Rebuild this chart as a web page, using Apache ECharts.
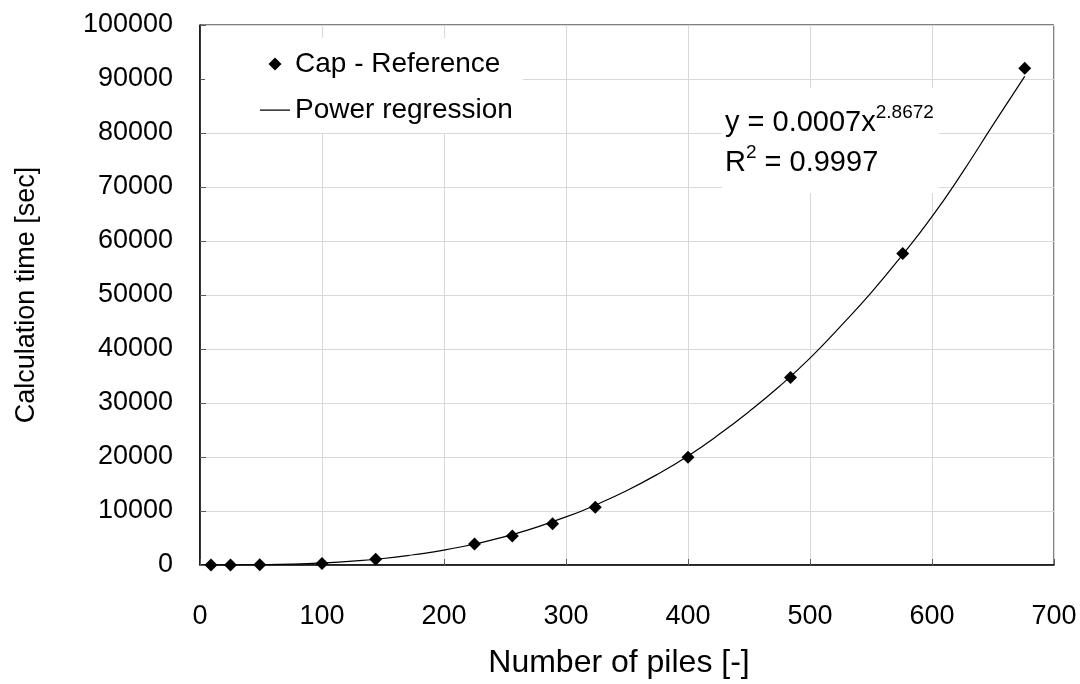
<!DOCTYPE html>
<html>
<head>
<meta charset="utf-8">
<script src="https://cdn.jsdelivr.net/npm/echarts@6/dist/echarts.min.js"></script>
<style>
  html, body { margin: 0; padding: 0; background: #fff; }
  #chart { width: 1080px; height: 684px; }
</style>
</head>
<body>
<div id="chart"></div>
<script>
// measured points (number of piles vs calculation time in seconds)
const pileCounts = [9, 25, 49, 100, 144, 225, 256, 289, 324, 400, 484, 576, 676];
const calcTimes = [5, 20, 60, 300, 1050, 3870, 5350, 7620, 10700, 19950, 34700, 57700, 92000];

// power regression curve
const trendX = [9, 25, 50, 75, 100, 125, 150, 175, 200, 250, 300, 325, 350, 375, 400, 425, 450, 475, 500, 525, 550, 575, 600, 625, 650, 676];
const trendY = [0, 7, 50, 160, 380, 720, 1200, 1900, 2750, 5250, 8900, 11200, 13800, 16800, 20200, 24100, 28400, 33100, 38300, 44200, 50400, 57200, 64500, 72700, 81500, 90500];

const FONT = 'Liberation Sans';

// legend icons: tiny dots at the box corners keep the diamond from being stretched
const DIAMOND_ICON = 'path://M0,6.5 L0.01,6.5 L0,6.51 Z M15,0 L21.5,6.5 L15,13 L8.5,6.5 Z M30,6.5 L29.99,6.5 L30,6.51 Z';
const LINE_ICON = 'path://M0,0 L0.01,0 L0,0.01 Z M0,6 L30,6 L30,7.2 L0,7.2 Z M30,13 L29.99,13 L30,12.99 Z';

document.addEventListener('DOMContentLoaded', () => {
  const chart = echarts.init(document.getElementById('chart'));

  const option = {
    animation: false,
    backgroundColor: '#fff',
    textStyle: { fontFamily: FONT, color: '#000' },
    grid: {
      left: 200,
      right: 26,
      top: 25,
      bottom: 117,
      show: true,
      borderColor: '#000',
      borderWidth: 1
    },
    legend: {
      orient: 'vertical',
      left: 205,
      top: 38,
      padding: [12, 10, 9, 55],
      itemGap: 18,
      itemWidth: 30,
      itemHeight: 13,
      backgroundColor: '#fff',
      textStyle: { fontFamily: FONT, fontSize: 28, color: '#000' },
      data: [
        { name: 'Cap - Reference', icon: DIAMOND_ICON },
        { name: 'Power regression', icon: LINE_ICON }
      ]
    },
    xAxis: {
      type: 'value',
      min: 0,
      max: 700,
      interval: 100,
      name: 'Number of piles [-]',
      nameLocation: 'middle',
      nameGap: 82,
      nameTextStyle: { fontFamily: FONT, fontSize: 32, color: '#000', padding: [0, 16, 0, 0] },
      axisLine: { lineStyle: { color: '#000', width: 1.5 } },
      axisTick: { inside: true, length: 6, lineStyle: { color: '#595959' } },
      axisLabel: { fontFamily: FONT, fontSize: 27, color: '#000', margin: 38 },
      splitLine: { lineStyle: { color: '#d9d9d9', width: 1 } }
    },
    yAxis: {
      type: 'value',
      min: 0,
      max: 100000,
      interval: 10000,
      name: 'Calculation time [sec]',
      nameLocation: 'middle',
      nameGap: 160,
      nameTextStyle: { fontFamily: FONT, fontSize: 27, color: '#000' },
      axisLine: { lineStyle: { color: '#000', width: 1.5 } },
      axisTick: { inside: true, length: 6, lineStyle: { color: '#595959' } },
      axisLabel: {
        fontFamily: FONT,
        fontSize: 27,
        color: '#000',
        margin: 27,
        formatter: (v) => String(v)
      },
      splitLine: { lineStyle: { color: '#d9d9d9', width: 1 } }
    },
    graphic: [
      {
        type: 'text',
        left: 722,
        top: 88,
        z: 10,
        style: {
          text: '{a|y = 0.0007x}{s|2.8672}\n{a|R}{s|2}{a| = 0.9997}',
          backgroundColor: '#fff',
          padding: [15, 5, 10, 3],
          rich: {
            a: { fontFamily: FONT, fontSize: 29, lineHeight: 40, fill: '#000' },
            s: { fontFamily: FONT, fontSize: 19, lineHeight: 14, verticalAlign: 'top', fill: '#000' }
          }
        }
      }
    ],
    series: [
      {
        name: 'Power regression',
        type: 'line',
        smooth: true,
        symbol: 'none',
        lineStyle: { color: '#000', width: 1.2 },
        itemStyle: { color: '#000' },
        data: trendX.map((x, i) => [x, trendY[i]]),
        z: 2
      },
      {
        name: 'Cap - Reference',
        type: 'scatter',
        symbol: 'diamond',
        symbolSize: 13,
        itemStyle: { color: '#000', opacity: 1 },
        data: pileCounts.map((x, i) => [x, calcTimes[i]]),
        z: 3
      }
    ]
  };

  chart.setOption(option);
});
</script>
</body>
</html>
